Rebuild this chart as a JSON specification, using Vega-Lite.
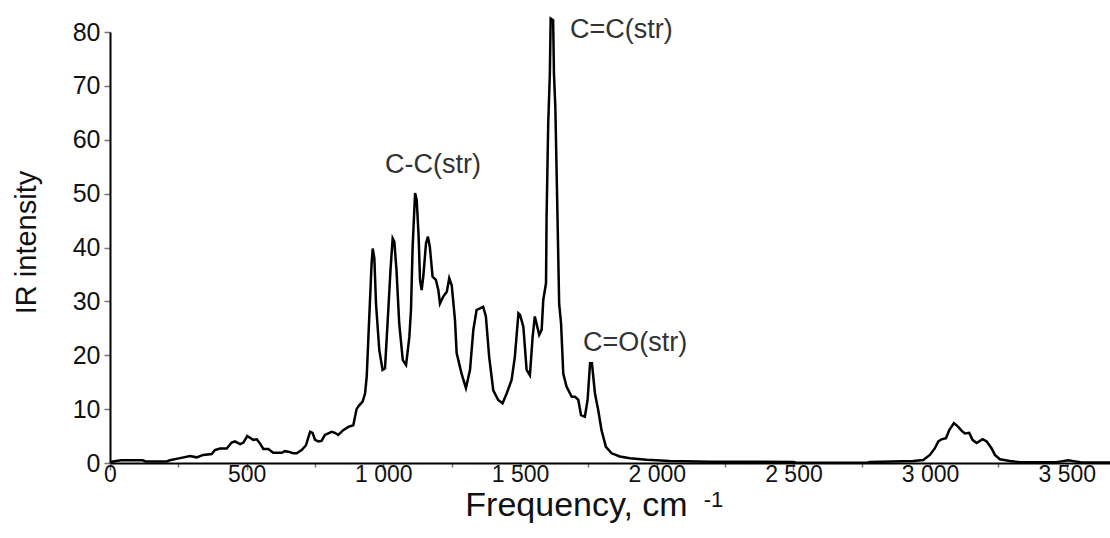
{
  "$schema": "https://vega.github.io/schema/vega-lite/v6.json",
  "width": 1000,
  "height": 431,
  "autosize": {"type": "none"},
  "padding": {"left": 110, "top": 32, "right": 0, "bottom": 75},
  "background": "white",
  "config": {"view": {"stroke": null}, "font": "Liberation Sans"},
  "layer": [
    {
      "data": {"values": [
        {"f":0,"i":0.2},{"f":40,"i":0.5},{"f":120,"i":0.5},{"f":130,"i":0.3},{"f":207,"i":0.3},{"f":219,"i":0.5},{"f":256,"i":0.9},{"f":293,"i":1.3},{"f":317,"i":1.05},{"f":341,"i":1.5},{"f":372,"i":1.67},{"f":384,"i":2.4},{"f":402,"i":2.7},{"f":427,"i":2.7},{"f":445,"i":3.8},{"f":457,"i":4.0},{"f":476,"i":3.5},{"f":488,"i":3.8},{"f":502,"i":5.0},{"f":515,"i":4.6},{"f":524,"i":4.3},{"f":537,"i":4.4},{"f":549,"i":3.6},{"f":561,"i":2.6},{"f":579,"i":2.6},{"f":597,"i":1.9},{"f":628,"i":1.9},{"f":640,"i":2.2},{"f":652,"i":2.1},{"f":670,"i":1.8},{"f":683,"i":1.8},{"f":701,"i":2.4},{"f":717,"i":3.3},{"f":732,"i":5.8},{"f":741,"i":5.6},{"f":750,"i":4.3},{"f":762,"i":4.0},{"f":774,"i":4.1},{"f":786,"i":5.2},{"f":811,"i":5.8},{"f":823,"i":5.6},{"f":835,"i":5.2},{"f":853,"i":6.1},{"f":872,"i":6.7},{"f":890,"i":7.0},{"f":902,"i":10.0},{"f":910,"i":10.6},{"f":924,"i":11.4},{"f":933,"i":12.9},{"f":939,"i":16.0},{"f":949,"i":27.8},{"f":957,"i":37.1},{"f":961,"i":39.8},{"f":967,"i":38.0},{"f":973,"i":29.6},{"f":985,"i":21.0},{"f":997,"i":17.3},{"f":1006,"i":17.6},{"f":1018,"i":28.4},{"f":1026,"i":35.8},{"f":1034,"i":41.7},{"f":1040,"i":41.1},{"f":1048,"i":35.8},{"f":1058,"i":25.9},{"f":1071,"i":19.1},{"f":1083,"i":18.2},{"f":1095,"i":23.4},{"f":1101,"i":28.4},{"f":1107,"i":40.1},{"f":1116,"i":50.1},{"f":1122,"i":48.8},{"f":1129,"i":42.0},{"f":1134,"i":34.0},{"f":1140,"i":32.1},{"f":1146,"i":34.6},{"f":1156,"i":40.8},{"f":1163,"i":42.0},{"f":1170,"i":40.1},{"f":1180,"i":34.6},{"f":1192,"i":34.0},{"f":1201,"i":32.1},{"f":1207,"i":29.6},{"f":1219,"i":30.9},{"f":1232,"i":31.8},{"f":1241,"i":34.3},{"f":1250,"i":33.0},{"f":1262,"i":26.5},{"f":1268,"i":20.4},{"f":1286,"i":16.6},{"f":1302,"i":13.9},{"f":1317,"i":17.3},{"f":1329,"i":24.7},{"f":1341,"i":28.4},{"f":1365,"i":29.0},{"f":1375,"i":27.2},{"f":1387,"i":19.7},{"f":1402,"i":13.5},{"f":1420,"i":11.7},{"f":1436,"i":11.1},{"f":1451,"i":12.9},{"f":1469,"i":15.4},{"f":1481,"i":19.7},{"f":1494,"i":27.8},{"f":1500,"i":27.5},{"f":1512,"i":25.3},{"f":1524,"i":17.3},{"f":1536,"i":16.3},{"f":1546,"i":23.4},{"f":1554,"i":27.2},{"f":1563,"i":25.3},{"f":1570,"i":23.8},{"f":1579,"i":24.7},{"f":1585,"i":30.3},{"f":1595,"i":33.4},{"f":1597,"i":45.7},{"f":1603,"i":63.0},{"f":1609,"i":72.3},{"f":1612,"i":82.5},{"f":1621,"i":82.2},{"f":1624,"i":72.3},{"f":1629,"i":66.1},{"f":1636,"i":48.2},{"f":1643,"i":29.6},{"f":1650,"i":25.9},{"f":1658,"i":16.6},{"f":1670,"i":14.2},{"f":1689,"i":12.3},{"f":1701,"i":12.3},{"f":1713,"i":11.7},{"f":1723,"i":8.9},{"f":1737,"i":8.6},{"f":1747,"i":11.7},{"f":1756,"i":18.5},{"f":1763,"i":18.5},{"f":1774,"i":12.9},{"f":1786,"i":9.8},{"f":1798,"i":6.1},{"f":1814,"i":3.0},{"f":1835,"i":1.8},{"f":1865,"i":1.2},{"f":1902,"i":0.9},{"f":1963,"i":0.6},{"f":2048,"i":0.37},{"f":2200,"i":0.25},{"f":2500,"i":0.2},{"f":2510,"i":0.05},{"f":2770,"i":0.05},{"f":2780,"i":0.2},{"f":2938,"i":0.37},{"f":2975,"i":0.56},{"f":2999,"i":1.5},{"f":3017,"i":2.7},{"f":3030,"i":4.0},{"f":3042,"i":4.4},{"f":3058,"i":4.6},{"f":3070,"i":6.1},{"f":3087,"i":7.4},{"f":3103,"i":6.7},{"f":3115,"i":6.0},{"f":3127,"i":5.5},{"f":3143,"i":5.6},{"f":3155,"i":4.3},{"f":3170,"i":3.7},{"f":3192,"i":4.4},{"f":3207,"i":4.0},{"f":3225,"i":2.7},{"f":3237,"i":1.5},{"f":3255,"i":0.7},{"f":3292,"i":0.37},{"f":3328,"i":0.13},{"f":3460,"i":0.13},{"f":3480,"i":0.3},{"f":3505,"i":0.5},{"f":3530,"i":0.3},{"f":3550,"i":0.13},{"f":3658,"i":0.1}
      ]},
      "mark": {"type": "line", "color": "black", "strokeWidth": 2.5, "clip": false},
      "encoding": {
        "x": {
          "field": "f", "type": "quantitative",
          "scale": {"domain": [0, 3658], "nice": false, "zero": false},
          "axis": {
            "title": "Frequency, cm",
            "values": [0,125,250,375,500,625,750,875,1000,1125,1250,1375,1500,1625,1750,1875,2000,2125,2250,2375,2500,2625,2750,2875,3000,3125,3250,3375,3500,3625],
            "labelExpr": "datum.value % 500 === 0 ? replace(format(datum.value, ','), ',', ' ') : ''",
            "tickSize": {"condition": {"test": "datum.value % 500 === 0", "value": 7}, "value": 4},
            "tickColor": "#777", "tickWidth": 1.5,
            "domainColor": "black", "domainWidth": 2,
            "grid": false,
            "labelFontSize": 23, "labelColor": "#111", "labelPadding": -7,
            "labelOverlap": false, "labelFlush": false, "labelBound": false,
            "titleFontSize": 34, "titleFontWeight": "normal", "titleColor": "#111",
            "titleX": 466, "titleY": 52, "titleBaseline": "alphabetic", "titleAlign": "center"
          }
        },
        "y": {
          "field": "i", "type": "quantitative",
          "scale": {"domain": [0, 80], "nice": false},
          "axis": {
            "title": "IR intensity",
            "values": [0,2.5,5,7.5,10,12.5,15,17.5,20,22.5,25,27.5,30,32.5,35,37.5,40,42.5,45,47.5,50,52.5,55,57.5,60,62.5,65,67.5,70,72.5,75,77.5,80],
            "labelExpr": "datum.value % 10 === 0 ? datum.label : ''",
            "tickSize": {"condition": {"test": "datum.value % 10 === 0", "value": 6}, "value": 3},
            "tickColor": "#777", "tickWidth": 1.5,
            "domainColor": "black", "domainWidth": 2,
            "grid": false,
            "labelFontSize": 25, "labelColor": "#111", "labelPadding": 4,
            "labelOverlap": false, "labelFlush": false, "labelBound": false,
            "titleFontSize": 29, "titleFontWeight": "normal", "titleColor": "#111",
            "titleX": -84, "titleY": 210, "titleAngle": 270, "titleBaseline": "middle", "titleAlign": "center"
          }
        }
      }
    },
    {
      "data": {"values": [
        {"f": 1683, "i": 80.3, "label": "C=C(str)"},
        {"f": 1006, "i": 55.3, "label": "C-C(str)"},
        {"f": 1730, "i": 22.3, "label": "C=O(str)"}
      ]},
      "mark": {"type": "text", "align": "left", "baseline": "middle", "fontSize": 27, "color": "#333", "clip": false},
      "encoding": {
        "x": {"field": "f", "type": "quantitative"},
        "y": {"field": "i", "type": "quantitative"},
        "text": {"field": "label"}
      }
    },
    {
      "data": {"values": [
        {"f": 2172, "i": -6.8, "label": "-1"}
      ]},
      "mark": {"type": "text", "align": "left", "baseline": "middle", "fontSize": 22, "color": "#111", "clip": false},
      "encoding": {
        "x": {"field": "f", "type": "quantitative"},
        "y": {"field": "i", "type": "quantitative"},
        "text": {"field": "label"}
      }
    }
  ]
}
